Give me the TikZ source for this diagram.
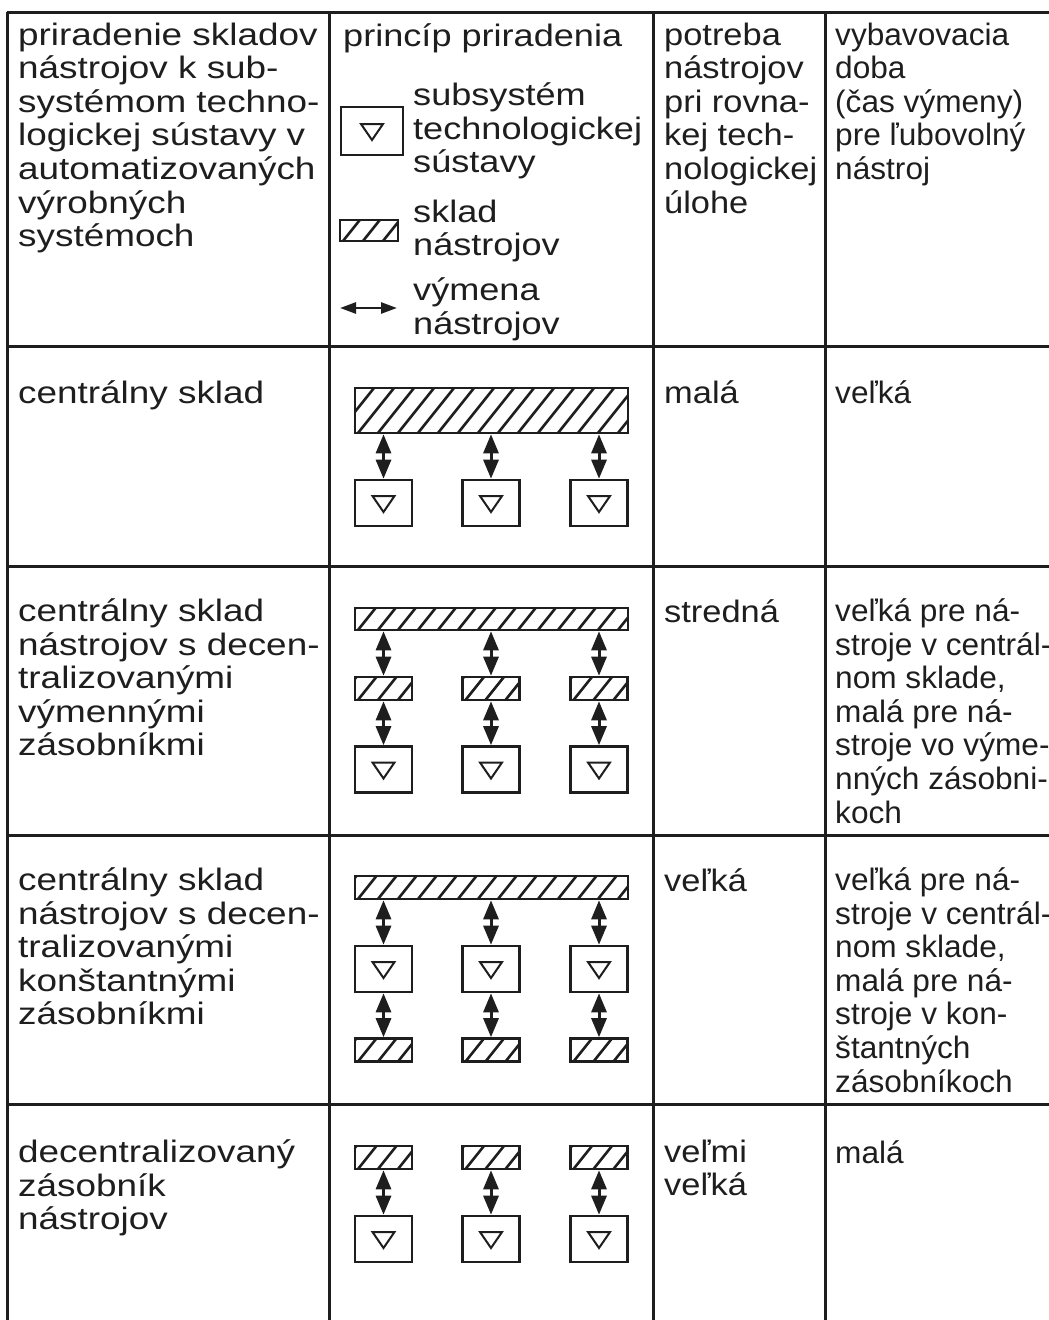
\documentclass[tikz,border=0pt]{standalone}
\usepackage{fontspec}
\setmainfont{Liberation Sans}
\newfontfamily\famA{Liberation Sans}[FakeStretch=1.19]
\newfontfamily\famB{Liberation Sans}[FakeStretch=1.165]
\newfontfamily\famC{Liberation Sans}[FakeStretch=1.11]
\newfontfamily\famD{Liberation Sans}[FakeStretch=1.02]
\usetikzlibrary{arrows.meta}
\newcommand{\fA}{\famA\fontsize{31}{33.6}\selectfont}
\newcommand{\fB}{\famB\fontsize{31}{33.6}\selectfont}
\newcommand{\fC}{\famC\fontsize{31}{33.6}\selectfont}
\newcommand{\fD}{\famD\fontsize{31}{33.6}\selectfont}
\definecolor{ink}{HTML}{1E1E1E}
\begin{document}
\begin{tikzpicture}[x=1pt,y=-1pt,
  grid/.style={line width=3pt, draw=ink},
  txt/.style={anchor=north west, inner sep=0pt, align=left, text=ink, execute at begin node=\strut},
  colA/.style={txt, font=\fA},
  colB/.style={txt, font=\fB},
  colC/.style={txt, font=\fC},
  colD/.style={txt, font=\fD},
  hatch/.style={draw=ink, line width=2.6pt, rectangle, inner sep=0pt,
    path picture={
      \foreach \k in {-4,...,15}{
        \draw[ink, line width=2.6pt]
          ([xshift=\k*20pt-5pt, yshift=-10pt]path picture bounding box.south west) -- ++(48pt,60pt);
      }
    }},
  subsys/.style={draw=ink, line width=2.6pt, rectangle, inner sep=0pt, minimum width=57pt, minimum height=46pt,
    path picture={
      \draw[ink, line width=2pt, line join=miter]
        ([shift={(-11pt,7pt)}]path picture bounding box.center) --
        ([shift={(11pt,7pt)}]path picture bounding box.center) --
        ([shift={(0pt,-9pt)}]path picture bounding box.center) -- cycle;
    }},
  bigbar/.style={hatch, minimum width=273pt},
  smallbar/.style={hatch, minimum width=57pt, minimum height=23pt},
  tipA/.tip={Triangle[length=19pt,width=15pt]},
  tipB/.tip={Triangle[length=16pt,width=11pt]},
  xchg/.style={ink, line width=3pt, tipA-tipA},
  legxchg/.style={ink, line width=2.6pt, tipB-tipB}
]
\useasboundingbox (0,0) rectangle (1049,1320);
\fill[white] (0,0) rectangle (1049,1320);

% table grid
\draw[grid] (7,12) -- (1049,12);
\draw[grid] (7,12) -- (7,1320);
\draw[grid] (329,12) -- (329,1320);
\draw[grid] (653,12) -- (653,1320);
\draw[grid] (825,12) -- (825,1320);
\foreach \yy in {346,566,835,1104}{ \draw[grid] (7,\yy) -- (1049,\yy); }

% header texts
\node[colA] (h1) at (18,22.5) {priradenie skladov\\nástrojov k sub-\\systémom techno-\\logickej sústavy v\\automatizovaných\\výrobných\\systémoch};
\node[colB] (h2) at (343,22.5) {princíp priradenia};
\node[colC] (h3) at (664,22.5) {potreba\\nástrojov\\pri rovna-\\kej tech-\\nologickej\\úlohe};
\node[colD] (h4) at (835,22.5) {vybavovacia\\doba\\(čas výmeny)\\pre ľubovolný\\nástroj};

% legend
\node[subsys, minimum width=62pt, minimum height=48pt] (lbox) at (372,131) {};
\node[colB] (lt1) at (413,82.5) {subsystém\\technologickej\\sústavy};
\node[hatch, minimum width=58pt, minimum height=21pt] (lhatch) at (369,230.5) {};
\node[colB] (lt2) at (413,199.5) {sklad\\nástrojov};
\coordinate (la) at (340,308);
\coordinate (lb) at (397,308);
\draw[legxchg] (la) -- (lb);
\node[colB] (lt3) at (413,277.5) {výmena\\nástrojov};

% row 2
\node[colA] (r2a) at (18,379.5) {centrálny sklad};
\node[colC] (r2c) at (664,379.5) {malá};
\node[colD] (r2d) at (835,379.5) {veľká};
\node[bigbar, minimum height=45pt] (r2bar) at (491.5,410.5) {};
\foreach \i/\xx in {1/383.5,2/491,3/599}{
  \node[subsys] (r2s\i) at (\xx,503) {};
  \draw[xchg] (r2s\i.north |- r2bar.south) -- (r2s\i.north);
}

% row 3
\node[colA] (r3a) at (18,598.5) {centrálny sklad\\nástrojov s decen-\\tralizovanými\\výmennými\\zásobníkmi};
\node[colC] (r3c) at (664,598.5) {stredná};
\node[colD] (r3d) at (835,598.5) {veľká pre ná-\\stroje v centrál-\\nom sklade,\\malá pre ná-\\stroje vo výme-\\nných zásobni-\\koch};
\node[bigbar, minimum height=22pt] (r3bar) at (491.5,619) {};
\foreach \i/\xx in {1/383.5,2/491,3/599}{
  \node[smallbar] (r3h\i) at (\xx,688.5) {};
  \node[subsys] (r3s\i) at (\xx,769.5) {};
  \draw[xchg] (r3h\i.north |- r3bar.south) -- (r3h\i.north);
  \draw[xchg] (r3h\i.south) -- (r3s\i.north);
}

% row 4
\node[colA] (r4a) at (18,867.5) {centrálny sklad\\nástrojov s decen-\\tralizovanými\\konštantnými\\zásobníkmi};
\node[colC] (r4c) at (664,867.5) {veľká};
\node[colD] (r4d) at (835,867.5) {veľká pre ná-\\stroje v centrál-\\nom sklade,\\malá pre ná-\\stroje v kon-\\štantných\\zásobníkoch};
\node[bigbar, minimum height=23pt] (r4bar) at (491.5,887.5) {};
\foreach \i/\xx in {1/383.5,2/491,3/599}{
  \node[subsys] (r4s\i) at (\xx,969) {};
  \node[smallbar] (r4h\i) at (\xx,1050) {};
  \draw[xchg] (r4s\i.north |- r4bar.south) -- (r4s\i.north);
  \draw[xchg] (r4s\i.south) -- (r4h\i.north);
}

% row 5
\node[colA] (r5a) at (18,1139.5) {decentralizovaný\\zásobník\\nástrojov};
\node[colC] (r5c) at (664,1139.5) {veľmi\\veľká};
\node[colD] (r5d) at (835,1139.5) {malá};
\foreach \i/\xx in {1/383.5,2/491,3/599}{
  \node[smallbar] (r5h\i) at (\xx,1157.5) {};
  \node[subsys] (r5s\i) at (\xx,1239) {};
  \draw[xchg] (r5h\i.south) -- (r5s\i.north);
}
\end{tikzpicture}
\end{document}
